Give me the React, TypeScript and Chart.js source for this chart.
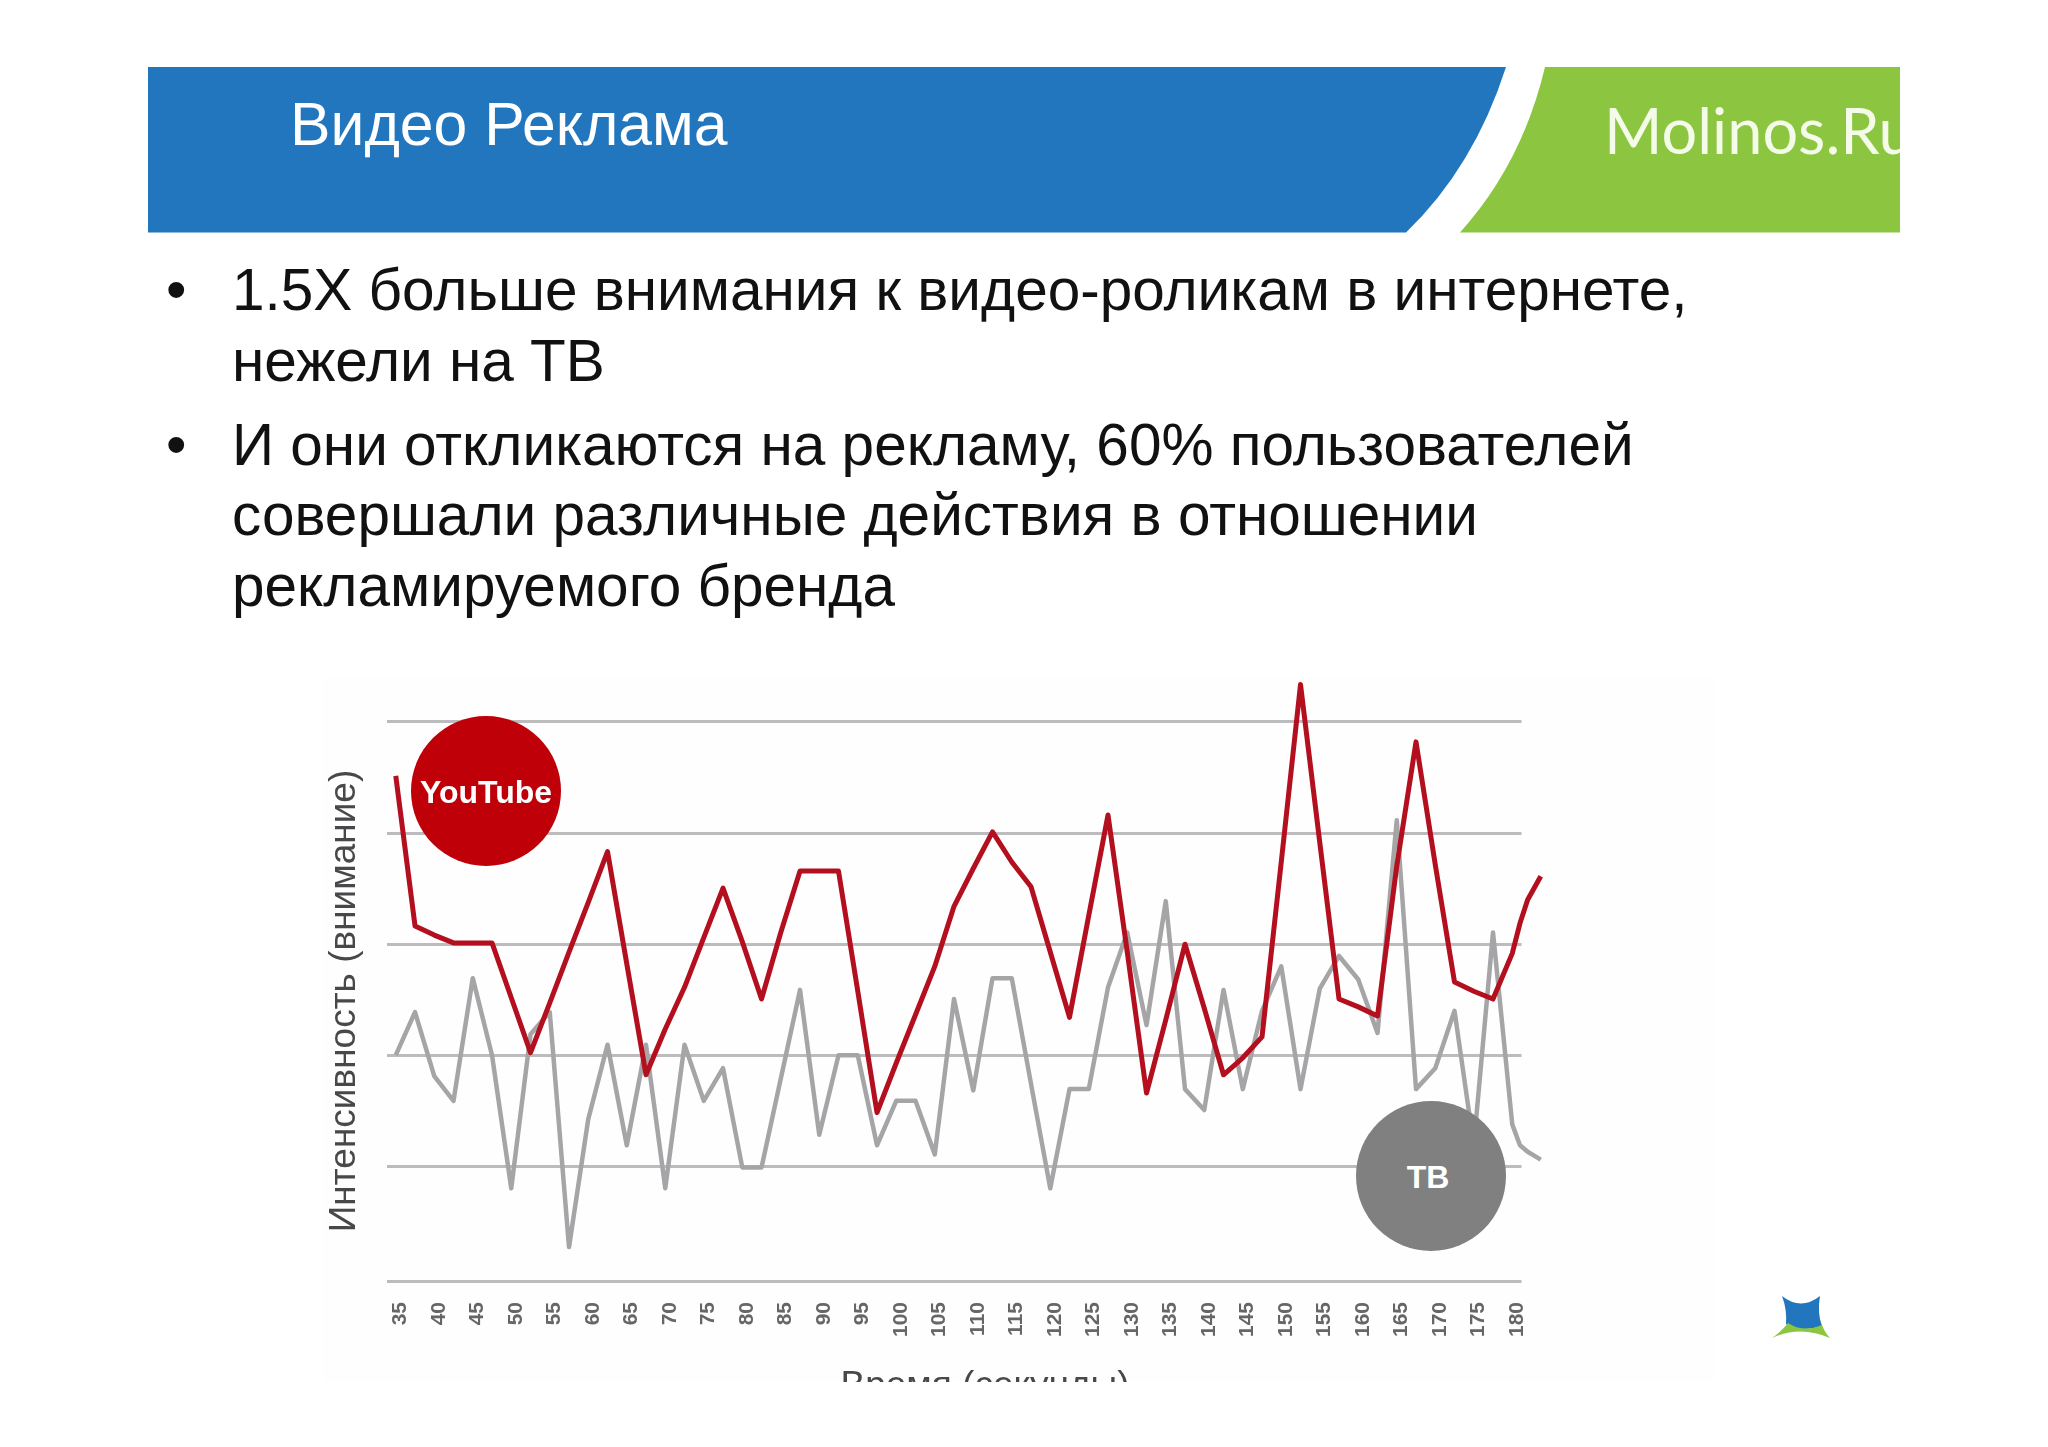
import React, { useEffect, useRef } from 'react';
import { Chart, registerables } from 'chart.js';

Chart.register(...registerables);

const SECONDS = [
  35, 37.5, 40, 42.5, 45, 47.5, 50, 52.5, 55, 57.5, 60, 62.5, 65, 67.5, 70, 72.5, 75, 77.5, 80, 82.5,
  85, 87.5, 90, 92.5, 95, 97.5, 100, 102.5, 105, 107.5, 110, 112.5, 115, 117.5, 120, 122.5, 125, 127.5, 130, 132.5,
  135, 137.5, 140, 142.5, 145, 147.5, 150, 152.5, 155, 157.5, 160, 162.5, 165, 167.5, 170, 172.5, 175, 177.5, 180,
  181, 182, 183.7,
];

const YOUTUBE = [
  387, 272, 265, 259, 259, 259, 217, 175, 213, 252,
  290, 329, 243, 158, 193, 225, 263, 301, 260, 216,
  267, 314, 314, 314, 222, 129, 167, 204, 241, 287,
  316, 344, 321, 302, 252, 202, 280, 357, 252, 144,
  200, 258, 209, 158, 171, 187, 321, 457, 336, 216,
  210, 203, 318, 413, 319, 229, 222, 216, 251,
  274, 292, 310,
];

const TV = [
  173, 206, 157, 138, 232, 173, 71, 189, 206, 26,
  124, 181, 104, 181, 71, 181, 138, 163, 87, 87,
  155, 223, 112, 173, 173, 104, 138, 138, 97, 216,
  146, 232, 232, 151, 71, 147, 147, 225, 267, 196,
  291, 147, 131, 223, 147, 207, 241, 147, 224, 249,
  231, 190, 353, 147, 163, 207, 104, 267, 120,
  104, 99, 93,
];

const X_TICKS = [
  35, 40, 45, 50, 55, 60, 65, 70, 75, 80, 85, 90, 95, 100, 105, 110, 115, 120, 125, 130,
  135, 140, 145, 150, 155, 160, 165, 170, 175, 180,
];
const Y_GRID = [0, 88, 173, 258, 343, 429];

const BULLETS = [
  { text: '1.5X больше внимания к видео-роликам в интернете,', top: 257, bullet: true },
  { text: 'нежели на ТВ', top: 328, bullet: false },
  { text: 'И они откликаются на рекламу, 60% пользователей', top: 412, bullet: true },
  { text: 'совершали различные действия в отношении', top: 482, bullet: false },
  { text: 'рекламируемого бренда', top: 553, bullet: false },
];

const FONT = '"Liberation Sans", Arial, sans-serif';

const Bubble: React.FC<{ label: string; x: number; y: number; color: string; size: number; shift: number }> = ({ label, x, y, color, size, shift }) => (
  <div
    style={{
      position: 'absolute',
      left: x - 75,
      top: y - 75,
      width: 150,
      height: 150,
      borderRadius: '50%',
      background: color,
      color: '#fff',
      display: 'flex',
      alignItems: 'center',
      justifyContent: 'center',
      fontFamily: FONT,
      fontWeight: 700,
      fontSize: size,
      paddingRight: shift,
      paddingTop: 3,
      boxSizing: 'border-box',
    }}
  >
    {label}
  </div>
);

const App: React.FC = () => {
  const canvasRef = useRef<HTMLCanvasElement>(null);

  useEffect(() => {
    document.body.style.margin = '0';
    document.body.style.background = '#fff';
    if (!canvasRef.current) return;

    const chart = new Chart(canvasRef.current, {
      type: 'line',
      data: {
        datasets: [
          {
            label: 'YouTube',
            data: SECONDS.map((s, i) => ({ x: s, y: YOUTUBE[i] })),
            borderColor: '#b30f1f',
            borderWidth: 5,
            borderJoinStyle: 'round',
            pointRadius: 0,
            tension: 0,
            clip: false,
          },
          {
            label: 'ТВ',
            data: SECONDS.map((s, i) => ({ x: s, y: TV[i] })),
            borderColor: '#a5a5a7',
            borderWidth: 4.5,
            borderJoinStyle: 'round',
            pointRadius: 0,
            tension: 0,
            clip: false,
          },
        ],
      },
      options: {
        responsive: false,
        animation: false,
        events: [],
        layout: { padding: { top: 45, right: 192.5, left: 0, bottom: 0 } },
        plugins: { legend: { display: false }, tooltip: { enabled: false } },
        scales: {
          x: {
            type: 'linear',
            bounds: 'data',
            // set here, not as min/max options: the line has to run on past the end of the grid
            afterDataLimits: (scale) => {
              scale.min = 33.81;
              scale.max = 181.2;
            },
            afterBuildTicks: (scale) => {
              scale.ticks = X_TICKS.map((value) => ({ value }));
            },
            afterFit: (scale) => {
              scale.height = 115;
            },
            grid: { display: false },
            border: { display: false },
            ticks: {
              autoSkip: false,
              minRotation: 90,
              maxRotation: 90,
              padding: 13,
              labelOffset: 4.5,
              color: '#666668',
              font: { family: FONT, size: 21, weight: 'bold' },
              callback: (v) => String(v),
            },
          },
          y: {
            type: 'linear',
            min: 0,
            max: 429,
            afterBuildTicks: (scale) => {
              scale.ticks = Y_GRID.map((value) => ({ value }));
            },
            afterFit: (scale) => {
              scale.width = 63.6;
            },
            grid: { color: '#bcbcbe', lineWidth: 3, drawTicks: false },
            border: { display: false },
            ticks: { display: false },
            title: {
              display: true,
              text: 'Интенсивность (внимание)',
              color: '#48484a',
              font: { family: FONT, size: 37 },
              padding: { top: 0, bottom: 0 },
            },
          },
        },
      },
    });

    return () => chart.destroy();
  }, []);

  return (
    <div style={{ position: 'relative', width: 2048, height: 1447, overflow: 'hidden', background: '#fff', fontFamily: FONT }}>
      <svg width={2048} height={260} style={{ position: 'absolute', left: 0, top: 0 }}>
        <path d="M148,67 L1506,67 Q1474,167 1406,232.5 L148,232.5 Z" fill="#2176bd" />
        <path d="M1545,67 L1900,67 L1900,232.5 L1460,232.5 Q1522,164 1545,67 Z" fill="#8cc540" />
      </svg>
      <div style={{ position: 'absolute', left: 290, top: 89, fontSize: 60.7, color: '#fff', lineHeight: '70px', whiteSpace: 'nowrap' }}>
        Видео Реклама
      </div>
      <div style={{ position: 'absolute', left: 1604, top: 86, width: 296, overflow: 'hidden', fontSize: 63, color: '#f4fbe8', lineHeight: '88px', fontFamily: 'Lato, sans-serif', fontWeight: 400, whiteSpace: 'nowrap' }}>
        Molinos.Ru
      </div>

      {BULLETS.map((b) => (
        <React.Fragment key={b.text}>
          {b.bullet && (
            <div style={{ position: 'absolute', left: 166, top: b.top, fontSize: 58.5, lineHeight: '66px', color: '#111' }}>•</div>
          )}
          <div style={{ position: 'absolute', left: 232, top: b.top, fontSize: 58.5, lineHeight: '66px', color: '#111', whiteSpace: 'nowrap' }}>
            {b.text}
          </div>
        </React.Fragment>
      ))}

      <div style={{ position: 'absolute', left: 323, top: 676, width: 1391, height: 706, overflow: 'hidden', background: '#fefefe' }}>
        <canvas ref={canvasRef} width={1391} height={720} style={{ display: 'block' }} />
        <div style={{ position: 'absolute', left: 449, top: 688, width: 426, textAlign: 'center', fontSize: 37, lineHeight: '42px', color: '#48484a', whiteSpace: 'nowrap' }}>
          Время (секунды)
        </div>
      </div>

      <Bubble label="YouTube" x={486} y={791} color="#bf0009" size={32} shift={0} />
      <Bubble label="ТВ" x={1431} y={1176} color="#808080" size={32} shift={6} />

      <svg width={70} height={50} viewBox="1770 1290 70 50" style={{ position: 'absolute', left: 1770, top: 1293 }}>
        <path d="M1782,1293 Q1801,1308 1820,1293 Q1817,1310 1822,1323 Q1800,1330 1786,1321 Q1787,1306 1782,1293 Z" fill="#2176bd" />
        <path d="M1772,1335 Q1782,1328 1788,1320 Q1803,1330 1822,1322 Q1825,1330 1830,1335 Q1800,1322 1772,1335 Z" fill="#8cc540" />
      </svg>
    </div>
  );
};

export default App;
